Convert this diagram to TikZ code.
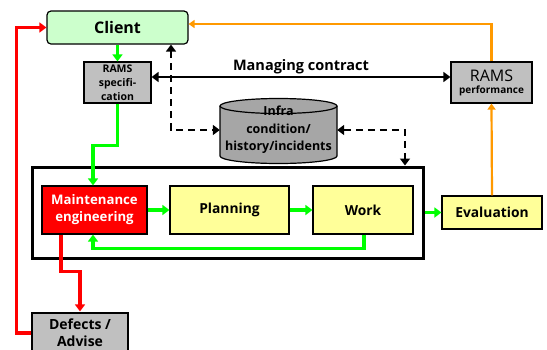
\documentclass[tikz,border=0pt]{standalone}
\usepackage{fontspec}
\setmainfont{Open Sans}
\usetikzlibrary{arrows.meta,calc}
\definecolor{clientfill}{HTML}{CCFFCC}
\definecolor{boxgray}{HTML}{C0C0C0}
\definecolor{cylgray}{HTML}{A6A6A6}
\definecolor{paleyellow}{HTML}{FFFF99}
\definecolor{flowgreen}{HTML}{00FF00}
\definecolor{flowred}{HTML}{FF0000}
\definecolor{floworange}{HTML}{FF9900}
\tikzset{
  box/.style={draw=black, line width=1.2pt, inner sep=1pt, align=center, font=\bfseries},
  graybox/.style={box, fill=boxgray},
  yellowbox/.style={box, fill=paleyellow, font=\bfseries\fontsize{13.8}{16}\selectfont},
  tip/.style={-{Triangle[length=7pt,width=10pt]}},
  greenflow/.style={flowgreen, line width=3.5pt, tip},
  redflow/.style={flowred, line width=3.5pt, tip},
  orangeflow/.style={floworange, line width=2.2pt, -{Triangle[length=6pt,width=8pt]}},
  dashflow/.style={black, line width=2.8pt, dash pattern=on 7pt off 5pt,
    {Triangle[length=7pt,width=10pt]}-{Triangle[length=7pt,width=10pt]}},
}
\begin{document}
\begin{tikzpicture}[x=1pt,y=-1pt]
\useasboundingbox (0,0) rectangle (547,349);
\clip (0,0) rectangle (547,349);

% boxes
\node[box, fill=clientfill, rounded corners=4pt, minimum width=141pt, minimum height=33pt,
      font=\bfseries\fontsize{16}{18}\selectfont] (client) at (117.5,27.5) {Client};
\node[graybox, minimum width=67pt, minimum height=41pt,
      font=\bfseries\fontsize{10.5}{14}\selectfont] (spec) at (117.5,82.5) {RAMS\\specifi-\\cation};
\node[graybox, minimum width=81pt, minimum height=41pt, font=\normalfont] (perf) at (491.5,82.5)
      {{\fontsize{16}{16}\selectfont RAMS}\\[0pt]{\bfseries\fontsize{10}{11}\selectfont performance}};

% database cylinder
\fill[cylgray] (220,106) -- (220,156) arc[start angle=180,end angle=360,x radius=58.5pt,y radius=7.5pt]
  -- (337,106) arc[start angle=0,end angle=180,x radius=58.5pt,y radius=7.5pt] -- cycle;
\draw[line width=1.2pt] (220,106) -- (220,156) arc[start angle=180,end angle=360,x radius=58.5pt,y radius=7.5pt]
  -- (337,106);
\draw[line width=1.2pt] (278.5,106) ellipse[x radius=58.5pt,y radius=7.5pt];
\node[inner sep=0pt, minimum width=117pt, minimum height=62pt, align=center,
      font=\bfseries\fontsize{12.5}{17.5}\selectfont] (db) at (278.5,130)
      {Infra\\condition/\\history/incidents};

% process frame
\node[draw=black, line width=3pt, minimum width=391pt, minimum height=91pt, inner sep=0pt] (frame) at (227.5,212.5) {};
\node[box, fill=flowred, text=white, minimum width=105pt, minimum height=48pt,
      font=\bfseries\fontsize{13.2}{17}\selectfont] (me) at (94.5,210) {Maintenance\\engineering};
\node[yellowbox, minimum width=119pt, minimum height=48pt] (plan) at (229.5,210) {Planning};
\node[yellowbox, minimum width=100pt, minimum height=48pt] (work) at (363,210) {Work};
\node[yellowbox, minimum width=100pt, minimum height=33pt] (eval) at (492,212.5) {Evaluation};
\node[graybox, minimum width=96pt, minimum height=40pt, font=\bfseries\fontsize{14}{17}\selectfont] (defects) at (80,333) {Defects /\\Advise};

% green flow
\draw[greenflow] (client.south) -- (spec.north);
\draw[greenflow] (spec.south) -- ++(0,42) -| ([xshift=-1.5pt]me.north);
\draw[greenflow] (me.east) -- (plan.west);
\draw[greenflow] (plan.east) -- (work.west);
\draw[greenflow] (frame.east |- eval.west) -- (eval.west);
\draw[greenflow] ([xshift=1pt]work.south) -- ++(0,14) -| ([xshift=-1.5pt]me.south);

% red flow
\draw[redflow] ([xshift=-33.5pt]me.south) -- ++(0,37) -| ([yshift=1pt]defects.north);
\draw[redflow] (defects.west) -- ++(-15,0) |- (client.west);

% orange flow
\draw[orangeflow] (perf.north) |- ([yshift=3.5pt]client.east);
\draw[orangeflow] (eval.north) -- (perf.south);

% contract
\draw[black, line width=2.2pt, {Triangle[length=7pt,width=10pt]}-{Triangle[length=7pt,width=10pt]}]
  (spec.east |- 0,77) -- node[above=-1pt, font=\bfseries\fontsize{14.5}{16}\selectfont] (contract) {Managing contract} (perf.west |- 0,77);

% information exchange with the database
\draw[dashflow] ([xshift=53.5pt]client.south) |- (db.west);
\draw[dashflow] (db.east) -| ([xshift=177.5pt]frame.north);
\end{tikzpicture}
\end{document}
